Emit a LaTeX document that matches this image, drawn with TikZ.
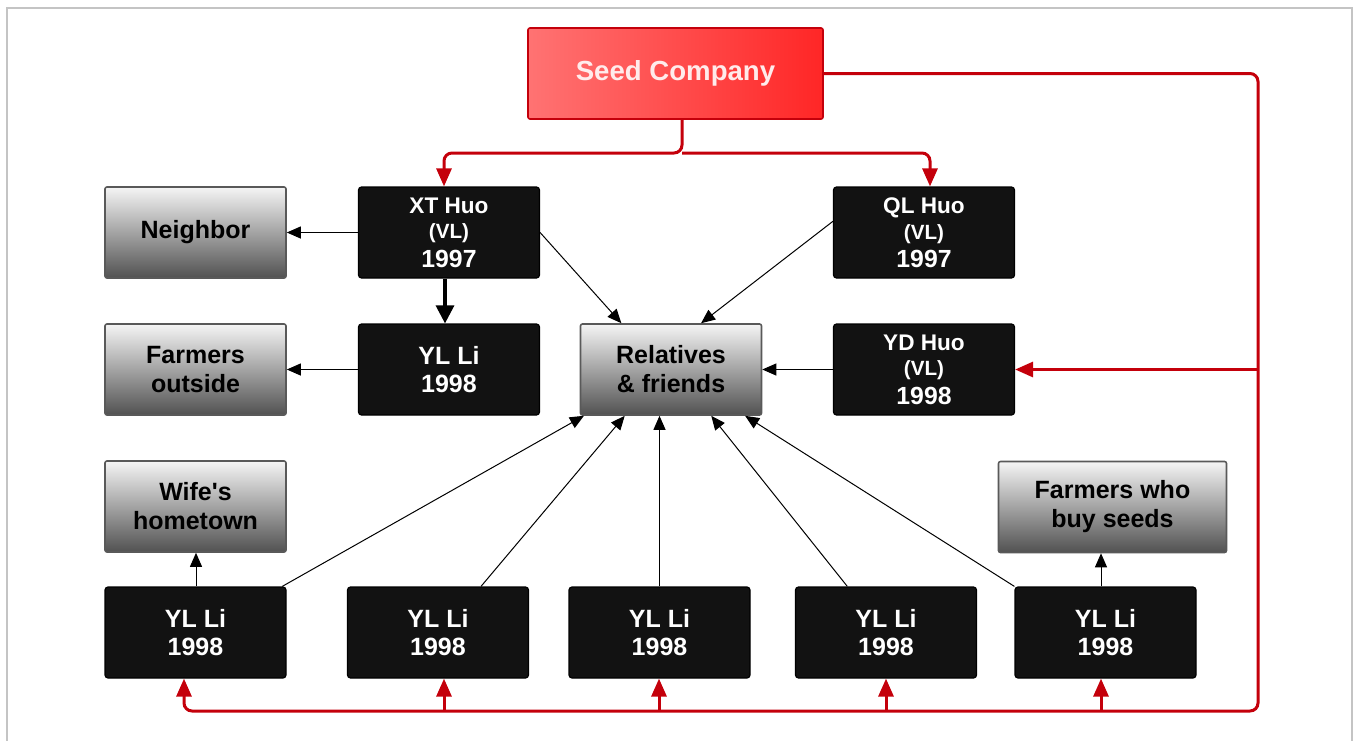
\documentclass[tikz,border=0pt]{standalone}
\usepackage{fontspec}
\setmainfont{Liberation Sans}[Ligatures=TeXOff]
\usetikzlibrary{arrows.meta}
\definecolor{linkred}{HTML}{C4000B}
\definecolor{boxblack}{HTML}{121212}
\definecolor{framegray}{HTML}{C4C4C4}
\tikzset{
  darkbox/.style={draw=black, fill=boxblack, rounded corners=1.5pt, line width=0.6pt,
    text=white, font=\bfseries\fontsize{12.5}{14}\selectfont, align=center,
    minimum width=90.5pt, minimum height=45.5pt, inner sep=0pt},
  vlbox/.style={darkbox, font=\bfseries\fontsize{12.4}{12.85}\selectfont},
  graybox/.style={draw=black!65, line width=0.8pt, rounded corners=1pt,
    top color=black!4, middle color=black!30, bottom color=black!68,
    text=black, font=\bfseries\fontsize{12.5}{14.5}\selectfont, align=center,
    minimum width=90.5pt, minimum height=45.5pt, inner sep=0pt},
  redbox/.style={draw=linkred, line width=0.8pt, rounded corners=1pt,
    left color=red!55!white, right color=red!85!white,
    text=white!92!red, font=\bfseries\fontsize{13.8}{16}\selectfont,
    minimum width=147.5pt, minimum height=45.5pt, inner sep=0pt},
  thinlink/.style={draw=black, line width=0.5pt, -{Triangle[length=7pt,width=6pt]}},
  boldlink/.style={draw=black, line width=1.6pt, -{Triangle[length=9pt,width=9pt]}},
  redline/.style={draw=linkred, line width=1.5pt, rounded corners=4pt},
  redlink/.style={redline, -{Triangle[length=9pt,width=7.5pt]}},
}
\newcommand{\vlname}[3]{{\fontsize{11.3}{12.85}\selectfont #1}\\{\fontsize{10.3}{12.85}\selectfont #2}\\[1.2pt]#3}
\begin{document}
\begin{tikzpicture}[x=0.5pt, y=-0.5pt]
\useasboundingbox (0,0) rectangle (1354,740);
% frame
\draw[framegray, line width=0.8pt] (7,742) -- (7,8) -- (1352,8) -- (1352,742);

% nodes
\node[redbox] (seed) at (675.5,73.5) {Seed Company};
\node[vlbox] (xt) at (449,232.5) {\vlname{XT Huo}{(VL)}{1997}};
\node[vlbox] (ql) at (924,232.5) {\vlname{QL Huo}{(VL)}{1997}};
\node[graybox] (nb) at (195.5,232.5) {Neighbor};
\node[graybox] (fo) at (195.5,369.5) {Farmers\\outside};
\node[darkbox] (yl) at (449,369.5) {YL Li\\1998};
\node[graybox] (rf) at (671,369.5) {Relatives\\\& friends};
\node[vlbox] (yd) at (924,369.5) {\vlname{YD Huo}{(VL)}{1998}};
\node[graybox] (wh) at (195.5,506.5) {Wife's\\hometown};
\node[graybox, minimum width=114pt] (fb) at (1112.5,507) {Farmers who\\buy seeds};
\node[darkbox] (b1) at (195.5,632.5) {YL Li\\1998};
\node[darkbox] (b2) at (438,632.5) {YL Li\\1998};
\node[darkbox] (b3) at (659.5,632.5) {YL Li\\1998};
\node[darkbox] (b4) at (886,632.5) {YL Li\\1998};
\node[darkbox] (b5) at (1105.5,632.5) {YL Li\\1998};

% bus coordinates
\coordinate (sx) at (682,153);
\coordinate (busL) at (444,153);
\coordinate (busR) at (930,153);
\coordinate (trunkTop) at (1258,73.5);
\coordinate (trunkBot) at (1258,711);
\coordinate (busB1) at (184,711);
\coordinate (busB2) at (444,711);
\coordinate (busB3) at (659,711);
\coordinate (busB4) at (886,711);
\coordinate (busB5) at (1101,711);

% red supply lines
\draw[redlink] (seed.south -| sx) -- (sx) -- (busL) -- (xt.north -| busL);
\draw[redlink] (sx) -- (busR) -- (ql.north -| busR);
\draw[redlink] (seed.east) -- (trunkTop) -- (trunkBot) -- (busB1) -- (b1.south -| busB1);
\draw[redlink] (trunkTop |- yd.east) -- (yd.east);
\draw[redlink] (busB2) -- (b2.south -| busB2);
\draw[redlink] (busB3) -- (b3.south -| busB3);
\draw[redlink] (busB4) -- (b4.south -| busB4);
\draw[redlink] (busB5) -- (b5.south -| busB5);

% black spread lines
\coordinate (xa) at (445,0);
\draw[boldlink] (xt.south -| xa) -- (yl.north -| xa);
\draw[thinlink] (xt.west) -- (nb.east);
\draw[thinlink] (yl.west) -- (fo.east);
\draw[thinlink] (xt.east) -- (rf.137);
\draw[thinlink] (ql.173) -- (rf.57);
\draw[thinlink] (yd.west) -- (rf.east);
\draw[thinlink] (b1.28) -- (rf.208);
\draw[thinlink] (b2.47) -- (rf.225);
\draw[thinlink] (b3.north) -- (rf.south -| b3.north);
\draw[thinlink] (b4.130) -- (rf.311);
\draw[thinlink] (b5.north west) -- (rf.328);
\coordinate (wa) at (196,0);
\draw[thinlink] (b1.north -| wa) -- (wh.south -| wa);
\coordinate (fa) at (1101,0);
\draw[thinlink] (b5.north -| fa) -- (fb.south -| fa);
\end{tikzpicture}
\end{document}
